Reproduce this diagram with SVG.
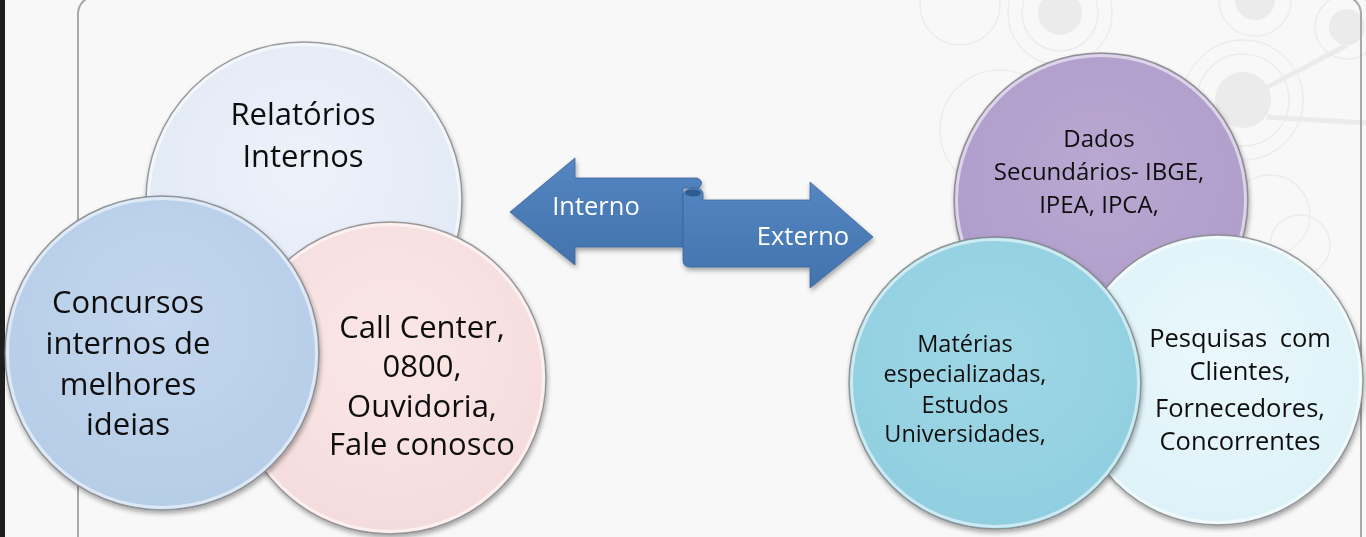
<svg xmlns="http://www.w3.org/2000/svg" width="1366" height="537" viewBox="0 0 1366 537">
<defs>
<style>
.lbl{font-family:"Open Sans","Liberation Sans",sans-serif;fill:#111;text-anchor:middle}
.al{font-family:"Open Sans","Liberation Sans",sans-serif;fill:#fff;text-anchor:middle;font-size:25.5px}
.rim{fill:none;stroke:#ffffff;stroke-opacity:.55;stroke-width:3}
.edge{stroke:#7f7f7f;stroke-opacity:.75;stroke-width:1.5}
.deco{fill:none;stroke:#ececec;stroke-width:1.5}
.dot{fill:#ebebeb}
</style>
<filter id="sh" x="-10%" y="-10%" width="120%" height="125%">
<feGaussianBlur in="SourceAlpha" stdDeviation="2.5"/>
<feOffset dx="1" dy="3" result="b"/>
<feComponentTransfer><feFuncA type="linear" slope="0.35"/></feComponentTransfer>
<feMerge><feMergeNode/><feMergeNode in="SourceGraphic"/></feMerge>
</filter>
<radialGradient id="g1" cx="50%" cy="40%" r="60%"><stop offset="0" stop-color="#edf2fa"/><stop offset="1" stop-color="#e1e9f5"/></radialGradient>
<radialGradient id="g2" cx="50%" cy="40%" r="60%"><stop offset="0" stop-color="#c3d7ee"/><stop offset="1" stop-color="#b6cde8"/></radialGradient>
<radialGradient id="g3" cx="50%" cy="40%" r="60%"><stop offset="0" stop-color="#fbe7e7"/><stop offset="1" stop-color="#f5dcdc"/></radialGradient>
<radialGradient id="g4" cx="50%" cy="40%" r="60%"><stop offset="0" stop-color="#b9a8d1"/><stop offset="1" stop-color="#af9ccb"/></radialGradient>
<radialGradient id="g5" cx="50%" cy="40%" r="60%"><stop offset="0" stop-color="#9fd7e6"/><stop offset="1" stop-color="#90cfe0"/></radialGradient>
<radialGradient id="g6" cx="50%" cy="40%" r="60%"><stop offset="0" stop-color="#eaf8fc"/><stop offset="1" stop-color="#ddf2f8"/></radialGradient>
<linearGradient id="ga" x1="0" y1="0" x2="0" y2="1"><stop offset="0" stop-color="#5486c2"/><stop offset="1" stop-color="#4273ad"/></linearGradient>
</defs>

<g id="background">
<rect x="0" y="0" width="1366" height="537" fill="#f8f8f8"/>
<rect x="0" y="0" width="5" height="537" fill="#1e1e1e"/>
<g id="decor">
<circle class="dot" cx="1060" cy="13" r="22"/>
<circle class="deco" cx="1060" cy="13" r="38"/>
<circle class="deco" cx="1060" cy="13" r="52"/>
<circle class="dot" cx="1255" cy="0" r="20"/>
<circle class="deco" cx="1255" cy="0" r="36"/>
<circle class="dot" cx="1347" cy="27" r="18"/>
<circle class="deco" cx="1347" cy="27" r="32"/>
<circle class="dot" cx="1243" cy="100" r="28"/>
<circle class="deco" cx="1243" cy="100" r="46"/>
<circle class="deco" cx="1243" cy="100" r="60"/>
<circle class="deco" cx="960" cy="5" r="40"/>
<circle class="deco" cx="1000" cy="130" r="60"/>
<circle class="deco" cx="1270" cy="215" r="40"/>
<circle class="deco" cx="1300" cy="245" r="30"/>
<line x1="1243" y1="100" x2="1347" y2="45" stroke="#ebebeb" stroke-width="5"/>
<line x1="1267" y1="117" x2="1366" y2="123" stroke="#ebebeb" stroke-width="5"/>
</g>
<rect x="78" y="-4" width="1283" height="570" rx="18" fill="none" stroke="#a8a8a8" stroke-width="2"/>
</g>

<g id="node-relatorios" filter="url(#sh)">
<circle cx="304" cy="200" r="158" fill="url(#g1)" class="edge"/>
<circle cx="304" cy="200" r="155.5" class="rim"/>
<text class="lbl" font-size="31" x="303" y="125">Relatórios</text>
<text class="lbl" font-size="31" x="303" y="167">Internos</text>
</g>

<g id="node-callcenter" filter="url(#sh)">
<circle cx="390" cy="378" r="156" fill="url(#g3)" class="edge"/>
<circle cx="390" cy="378" r="153.5" class="rim"/>
<text class="lbl" font-size="31" x="422" y="338">Call Center,</text>
<text class="lbl" font-size="31" x="422" y="377">0800,</text>
<text class="lbl" font-size="31" x="422" y="417">Ouvidoria,</text>
<text class="lbl" font-size="31" x="422" y="455">Fale conosco</text>
</g>

<g id="node-concursos" filter="url(#sh)">
<circle cx="162" cy="353" r="157" fill="url(#g2)" class="edge"/>
<circle cx="162" cy="353" r="154.5" class="rim"/>
<text class="lbl" font-size="31" x="128" y="313">Concursos</text>
<text class="lbl" font-size="31" x="128" y="354">internos de</text>
<text class="lbl" font-size="31" x="128" y="395">melhores</text>
<text class="lbl" font-size="31" x="128" y="435">ideias</text>
</g>

<g id="node-dados" filter="url(#sh)">
<circle cx="1101" cy="200" r="147" fill="url(#g4)" class="edge"/>
<circle cx="1101" cy="200" r="144.5" class="rim" stroke-opacity=".35"/>
<text class="lbl" font-size="24" x="1099" y="147">Dados</text>
<text class="lbl" font-size="24" x="1099" y="180">Secundários- IBGE,</text>
<text class="lbl" font-size="24" x="1099" y="213">IPEA, IPCA,</text>
</g>

<g id="node-pesquisas" filter="url(#sh)">
<circle cx="1218" cy="380" r="145" fill="url(#g6)" class="edge"/>
<circle cx="1218" cy="380" r="142.5" class="rim"/>
<text class="lbl" font-size="25.5" x="1240" y="347" word-spacing="6">Pesquisas com</text>
<text class="lbl" font-size="25.5" x="1240" y="380">Clientes,</text>
<text class="lbl" font-size="25.5" x="1240" y="417">Fornecedores,</text>
<text class="lbl" font-size="25.5" x="1240" y="450">Concorrentes</text>
</g>

<g id="node-materias" filter="url(#sh)">
<circle cx="995" cy="383" r="146" fill="url(#g5)" class="edge"/>
<circle cx="995" cy="383" r="143.5" class="rim" stroke-opacity=".35"/>
<text class="lbl" font-size="23.5" x="965" y="352">Matérias</text>
<text class="lbl" font-size="23.5" x="965" y="382">especializadas,</text>
<text class="lbl" font-size="23.5" x="965" y="413">Estudos</text>
<text class="lbl" font-size="23.5" x="965" y="442">Universidades,</text>
</g>

<g id="connectors" filter="url(#sh)">
<g id="arrow-interno">
<path d="M510,212 L575,158 L575,178 L697,178 Q705,181 699,188 L683,188 L683,247 L575,247 L575,265 Z" fill="url(#ga)" stroke="#3a6398" stroke-width="0.8"/>
<text class="al" x="596" y="215">Interno</text>
</g>
<g id="arrow-externo">
<path d="M683,196 C683,186 704,186 703,194 L703,200 L810,200 L810,182 L873,237 L810,288 L810,267 L690,267 Q683,267 683,260 Z" fill="url(#ga)" stroke="#3a6398" stroke-width="0.8"/>
<ellipse cx="693" cy="193" rx="8" ry="3.5" fill="#2f5b8f"/>
<text class="al" x="803" y="245">Externo</text>
</g>
</g>
</svg>
